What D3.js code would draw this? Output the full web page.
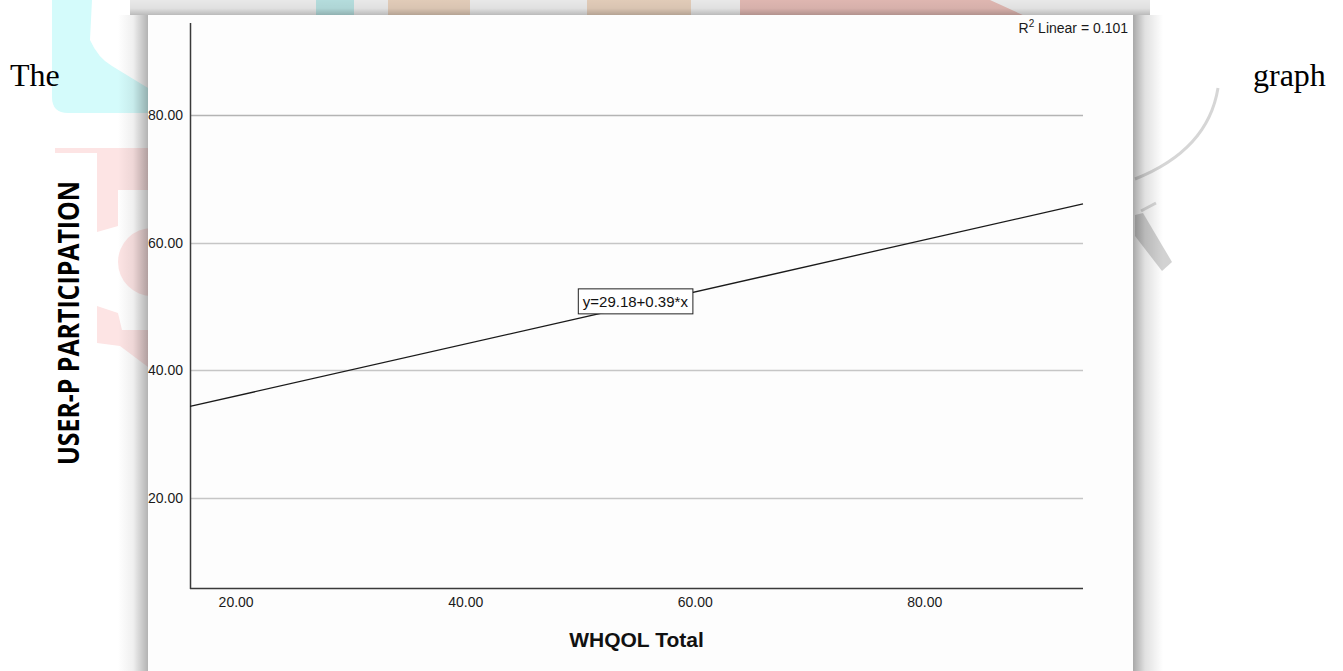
<!DOCTYPE html>
<html>
<head>
<meta charset="utf-8">
<script src="https://cdn.jsdelivr.net/npm/d3@7"></script>
<style>
  html, body { margin: 0; padding: 0; background: #ffffff; }
  #chart { width: 1343px; height: 671px; }
</style>
</head>
<body>
<div id="chart"></div>
<script>
// Axis ranges and ticks
const xDomain = [16.2, 94.0];
const yDomain = [5.8, 94.5];
const xTicks = [20, 40, 60, 80];
const yTicks = [20, 40, 60, 80];

// Fit line end points (WHQOL Total, USER-P PARTICIPATION)
const fitX = [16.2, 94.0];
const fitY = [34.3, 66.1];
const fitLabel = "y=29.18+0.39*x";
const fitLabelAt = [55.0, 50.8];
const r2Text = { prefix: "R", sup: "2", rest: " Linear = 0.101" };

const width = 1343, height = 671;
const plot = { left: 190, right: 1083, top: 23, bottom: 588 };

const svg = d3.select("#chart")
    .append("svg")
    .attr("width", width)
    .attr("height", height);

const defs = svg.append("defs");

function shadowGrad(id, x1, y1, x2, y2, stops) {
    const g = defs.append("linearGradient")
        .attr("id", id)
        .attr("x1", x1).attr("y1", y1).attr("x2", x2).attr("y2", y2);
    stops.forEach(s => g.append("stop")
        .attr("offset", s[0])
        .attr("stop-color", "#000")
        .attr("stop-opacity", s[1]));
}
shadowGrad("shLeft", 0, 0, 1, 0, [[0, 0], [0.5, 0.06], [1, 0.3]]);
shadowGrad("shRight", 0, 0, 1, 0, [[0, 0.34], [0.4, 0.12], [1, 0]]);
shadowGrad("shTop", 0, 0, 0, 1, [[0, 0.09], [0.55, 0.12], [1, 0.27]]);

// Background page watermark (faint)
const wm = svg.append("g");
wm.append("path")
    .attr("d", "M52,0 H148 V113 H68 Q52,113 52,97 Z")
    .attr("fill", "#d4fbfb");
wm.append("path")
    .attr("d", "M92,0 H148 V88 L112,66 Q98,58 90,40 Z")
    .attr("fill", "#ffffff");
wm.append("rect").attr("x", 55).attr("y", 148).attr("width", 93).attr("height", 5).attr("fill", "#fde4e4");
wm.append("path")
    .attr("d", "M97,148 H148 V367 L120,346 L97,343 Z")
    .attr("fill", "#fde4e4");
wm.append("path")
    .attr("d", "M118,190 H148 V330 H122 L118,313 L97,306 V232 L118,226 Z")
    .attr("fill", "#ffffff");
wm.append("circle").attr("cx", 152).attr("cy", 262).attr("r", 34).attr("fill", "#fde4e4");
wm.append("rect").attr("x", 316).attr("y", 0).attr("width", 38).attr("height", 16).attr("fill", "#c6f2f2");
wm.append("rect").attr("x", 388).attr("y", 0).attr("width", 82).attr("height", 16).attr("fill", "#f7dfca");
wm.append("rect").attr("x", 587).attr("y", 0).attr("width", 104).attr("height", 16).attr("fill", "#f7dfca");
wm.append("path").attr("d", "M740,0 H990 L1025,16 H740 Z").attr("fill", "#f4c8c2");
wm.append("path")
    .attr("d", "M1218,88 Q1208,150 1135,179")
    .attr("fill", "none")
    .attr("stroke", "#d6d6d6")
    .attr("stroke-width", 3);
wm.append("path")
    .attr("d", "M1135,215 L1143,213 L1172,262 L1162,271 L1135,236 Z")
    .attr("fill", "#d2d2d2");
wm.append("line")
    .attr("x1", 1141).attr("y1", 211).attr("x2", 1156).attr("y2", 203)
    .attr("stroke", "#dadada").attr("stroke-width", 3);

// Running text of the page
svg.append("text")
    .attr("x", 10).attr("y", 86)
    .style("font-family", "'Liberation Serif', 'Times New Roman', serif")
    .style("font-size", "32px")
    .style("fill", "#000")
    .text("The");
svg.append("text")
    .attr("x", 1253).attr("y", 86)
    .style("font-family", "'Liberation Serif', 'Times New Roman', serif")
    .style("font-size", "32px")
    .style("fill", "#000")
    .text("graph");

// Picture panel with its shadow
svg.append("rect").attr("x", 118).attr("y", 15).attr("width", 30).attr("height", height - 15).attr("fill", "url(#shLeft)");
svg.append("rect").attr("x", 1133).attr("y", 15).attr("width", 30).attr("height", height - 15).attr("fill", "url(#shRight)");
svg.append("rect").attr("x", 130).attr("y", 0).attr("width", 1020).attr("height", 15).attr("fill", "url(#shTop)");
svg.append("rect")
    .attr("x", 148).attr("y", 15)
    .attr("width", 985).attr("height", height - 15)
    .attr("fill", "#fdfdfd");

const x = d3.scaleLinear().domain(xDomain).range([plot.left, plot.right]);
const y = d3.scaleLinear().domain(yDomain).range([plot.bottom, plot.top]);

const chart = svg.append("g");

// Grid lines
chart.append("g")
    .selectAll("line")
    .data(yTicks)
    .join("line")
    .attr("x1", plot.left)
    .attr("x2", plot.right)
    .attr("y1", d => Math.round(y(d)) + 0.5)
    .attr("y2", d => Math.round(y(d)) + 0.5)
    .attr("stroke", d => d === 80 ? "#b4b4b4" : "#c6c6c6")
    .attr("stroke-width", 1.4);

// Y axis
const yAxis = chart.append("g")
    .attr("transform", `translate(${plot.left},0)`)
    .call(d3.axisLeft(y).tickValues(yTicks).tickSize(0).tickPadding(7).tickFormat(d3.format(".2f")));
yAxis.select(".domain").remove();
yAxis.selectAll("text")
    .style("font-family", "'Liberation Sans', Arial, sans-serif")
    .style("font-size", "14px")
    .style("fill", "#1a1a1a");

// X axis
const xAxis = chart.append("g")
    .attr("transform", `translate(0,${plot.bottom})`)
    .call(d3.axisBottom(x).tickValues(xTicks).tickSize(0).tickPadding(9).tickFormat(d3.format(".2f")));
xAxis.select(".domain").remove();
xAxis.selectAll("text")
    .attr("dx", 2)
    .style("font-family", "'Liberation Sans', Arial, sans-serif")
    .style("font-size", "14px")
    .style("fill", "#1a1a1a");

// Axis lines
chart.append("line")
    .attr("x1", plot.left + 0.5).attr("x2", plot.left + 0.5)
    .attr("y1", plot.top).attr("y2", plot.bottom + 1)
    .attr("stroke", "#3a3a3a").attr("stroke-width", 1.5);
chart.append("line")
    .attr("x1", plot.left).attr("x2", plot.right)
    .attr("y1", plot.bottom + 0.5).attr("y2", plot.bottom + 0.5)
    .attr("stroke", "#3a3a3a").attr("stroke-width", 1.5);

// Fit line
const fitData = fitX.map((d, i) => ({ x: d, y: fitY[i] }));
chart.append("path")
    .datum(fitData)
    .attr("d", d3.line().x(d => x(d.x)).y(d => y(d.y)))
    .attr("fill", "none")
    .attr("stroke", "#1a1a1a")
    .attr("stroke-width", 1.3);

// Equation label
const eq = chart.append("g")
    .attr("transform", `translate(${x(fitLabelAt[0])},${y(fitLabelAt[1])})`);
const eqText = eq.append("text")
    .attr("x", 0).attr("y", 6)
    .attr("text-anchor", "middle")
    .style("font-family", "'Liberation Sans', Arial, sans-serif")
    .style("font-size", "15px")
    .style("fill", "#111")
    .text(fitLabel);
const bb = eqText.node().getBBox();
eq.insert("rect", "text")
    .attr("x", bb.x - 4.5).attr("y", -12.5)
    .attr("width", bb.width + 9).attr("height", 25)
    .attr("fill", "#fff")
    .attr("stroke", "#222")
    .attr("stroke-width", 1);

// R squared note
const r2 = svg.append("text")
    .attr("x", 1128).attr("y", 33)
    .attr("text-anchor", "end")
    .style("font-family", "'Liberation Sans', Arial, sans-serif")
    .style("font-size", "14px")
    .style("fill", "#1a1a1a");
r2.append("tspan").text(r2Text.prefix);
r2.append("tspan").attr("dy", -6).style("font-size", "10px").text(r2Text.sup);
r2.append("tspan").attr("dy", 6).text(r2Text.rest);

// Axis titles
svg.append("text")
    .attr("x", (plot.left + plot.right) / 2)
    .attr("y", 647)
    .attr("text-anchor", "middle")
    .style("font-family", "'Liberation Sans', Arial, sans-serif")
    .style("font-size", "21px")
    .style("font-weight", "bold")
    .style("fill", "#111")
    .text("WHQOL Total");

svg.append("text")
    .attr("transform", "translate(79,323) rotate(-90)")
    .attr("text-anchor", "middle")
    .attr("textLength", 284)
    .attr("lengthAdjust", "spacingAndGlyphs")
    .style("font-family", "'Open Sans', 'Noto Sans', sans-serif")
    .style("font-size", "28px")
    .style("font-weight", "bold")
    .style("fill", "#000")
    .text("USER-P PARTICIPATION");
</script>
</body>
</html>
